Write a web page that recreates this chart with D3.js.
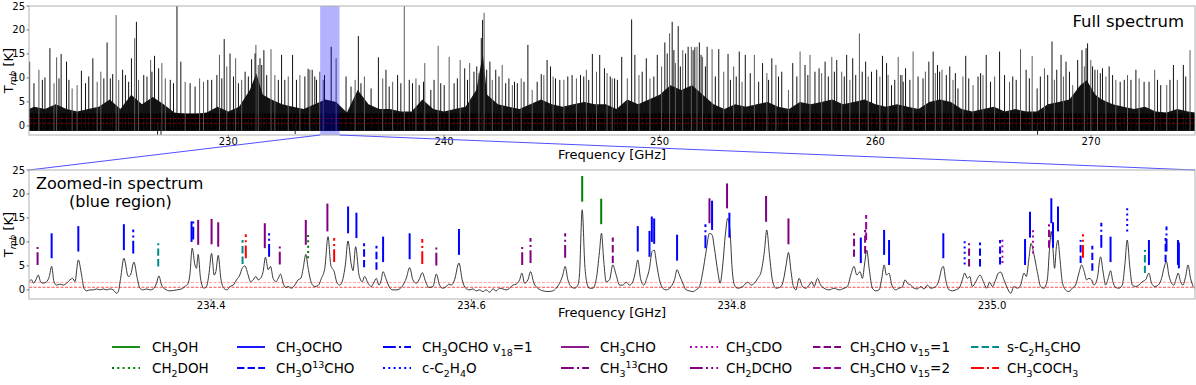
<!DOCTYPE html>
<html><head><meta charset="utf-8">
<script src="https://cdn.jsdelivr.net/npm/d3@7"></script>
<style>body{margin:0;background:#fff} text{font-family:"DejaVu Sans",sans-serif;fill:#000}</style>
</head><body><svg id="c" width="1196" height="385"></svg>
<script>
// ---------------- DATA ----------------
const fullRange = [220.76, 274.82];          // GHz, full spectrum axis
const zoomRange = [234.26, 235.156];         // GHz, zoomed window (blue band)
const tRange = [-1.9, 25];                   // K
const yTicks = [0, 5, 10, 15, 20, 25];
const fullTicks = [230, 240, 250, 260, 270];
const zoomTicks = [234.4, 234.6, 234.8, 235.0];
const rmsLevels = [0.55, 1.55];
const noiseFloor = -1.0;
const coreLevel = 2.6;

// dense part of the full spectrum [GHz, K]
const fullBody = [[220.76,3.5],[221.0,4],[221.5,3.5],[222.0,4.5],[222.5,3.5],[223.0,3],[223.5,3.5],[224.0,4],[224.5,5.5],[225.0,3.5],[225.5,6.5],[226.0,4.5],[226.5,6],[227.0,4.5],[227.5,2.8],[228.0,2.5],[228.5,2.5],[229.0,2.8],[229.5,4],[230.0,3],[230.5,4],[231.0,7.5],[231.3,11],[231.6,6.5],[232.0,5.5],[232.5,4.5],[233.0,4],[233.5,3.5],[234.0,4.5],[234.5,5.5],[235.0,5],[235.5,2.8],[236.0,7.5],[236.5,4.5],[237.0,3.5],[237.5,3.5],[238.0,3],[238.5,3],[239.0,5.5],[239.5,3.5],[240.0,3],[240.5,3.5],[241.0,4],[241.5,7.5],[241.8,15],[242.0,6.5],[242.5,4.5],[243.0,4],[243.5,3.5],[244.0,4.5],[244.5,5.5],[245.0,4.5],[245.5,4],[246.0,4.5],[246.5,5],[247.0,4.5],[247.5,4.5],[248.0,3.5],[248.5,5.5],[249.0,4.5],[249.5,5.5],[250.0,6.5],[250.5,8.5],[251.0,7.5],[251.5,8.5],[252.0,6.5],[252.5,4.5],[253.0,3.5],[253.5,4.5],[254.0,4],[254.5,4.5],[255.0,5],[255.5,4],[256.0,3.5],[256.5,5],[257.0,4.5],[257.5,5],[258.0,5.5],[258.5,4.5],[259.0,5],[259.5,5.5],[260.0,4.5],[260.5,4],[261.0,4.5],[261.5,4],[262.0,3.5],[262.5,5],[263.0,5.5],[263.5,5],[264.0,3.5],[264.5,3],[265.0,3.5],[265.5,4],[266.0,3],[266.5,3.5],[267.0,3],[267.5,3],[268.0,4.5],[268.5,5],[269.0,5.5],[269.5,8.5],[269.8,9.5],[270.2,6.5],[270.5,5.5],[271.0,4.5],[271.5,4],[272.0,3.5],[272.5,4],[273.0,3],[273.5,2.8],[274.0,3.5],[274.5,3],[274.82,2.8]];

// individual emission lines of the full spectrum [GHz, peak K]
const fullSpikes = [[220.79,13.4],[221.22,11.7],[221.50,10.1],[221.73,16.2],[222.04,14.3],[222.25,15.0],[222.50,13.4],[222.76,7.8],[223.19,11.5],[223.72,14.1],[224.09,11.3],[224.38,17.4],[224.64,10.8],[224.80,23.1],[225.10,11.7],[225.51,14.1],[225.66,18.3],[225.74,21.7],[226.08,10.6],[226.40,13.75],[226.58,14.6],[226.77,12.0],[226.92,13.1],[227.62,26],[227.80,13.4],[228.67,9.9],[229.05,9.6],[229.47,10.6],[229.59,14.8],[229.81,18.1],[230.08,15.1],[230.34,14.1],[230.78,11.3],[231.08,13.9],[231.28,16.9],[231.47,14.1],[231.65,15.8],[231.98,16.0],[232.47,14.8],[232.98,14.8],[233.32,10.6],[233.70,11.9],[233.89,11.7],[234.24,11.3],
[220.99,8.9],[221.38,9.6],[221.92,8.9],[222.15,9.9],[222.61,9.6],[222.99,8.5],[223.38,8.9],[223.53,10.3],[223.92,9.2],[224.23,9.9],[224.53,9.9],[224.92,9.6],[225.23,10.6],[225.38,9.2],[225.84,9.6],[226.23,10.3],[226.46,11.3],[227.08,9.9],[227.31,9.6],[227.46,8.9],[228.00,9.2],[228.23,8.9],[228.46,8.2],[228.85,9.2],[229.23,9.6],[229.70,9.9],[229.93,12.4],[230.24,10.3],[230.47,8.9],[230.62,9.6],[230.93,10.3],[231.24,15.1],[231.39,12.7],[231.55,12.7],[231.78,10.6],[232.16,10.6],[232.32,9.6],[232.62,9.6],[232.78,10.3],[233.16,9.6],[233.55,10.3],[233.78,11.7],[234.01,10.3],[234.09,9.6],[234.40,9.6],
[234.46,10.6],[234.77,16.5],[235.00,14.1],[235.46,10.3],[235.69,8.2],[235.88,9.6],[236.03,18.75],[236.15,8.9],[236.31,10.3],[236.62,7.8],[236.96,14.3],[237.16,9.9],[237.31,11.7],[237.46,8.2],[237.62,9.2],[237.85,10.6],[238.00,8.9],[238.16,26],[238.39,9.6],[238.54,8.9],[238.70,9.9],[238.85,8.5],[239.05,9.2],[239.11,13.1],[239.39,7.5],[239.54,9.6],[239.73,16.7],[239.85,8.9],[240.01,8.5],[240.24,14.4],[240.47,8.9],[240.62,9.9],[240.75,13.75],[240.96,12.0],[241.09,9.6],[241.19,13.1],[241.39,11.3],[241.52,12.4],[241.62,11.0],[241.73,18.3],[241.79,22.1],[241.86,23.6],[241.98,11.7],[242.13,13.4],[242.24,9.6],[242.40,11.7],[242.55,10.3],[242.70,12.7],[242.86,8.9],[243.01,9.9],[243.17,8.5],[243.27,9.2],[243.40,8.9],[243.58,9.9],[243.71,9.2],[243.89,16.9],[244.09,7.5],[244.32,9.2],[244.51,10.8],[244.63,10.6],[244.78,13.75],[244.94,12.4],[245.06,10.3],[245.17,9.9],[245.37,9.6],[245.56,9.6],[245.74,10.3],[245.94,10.6],[246.14,9.9],[246.33,10.6],[246.48,10.3],[246.60,11.7],[246.71,9.6],[246.88,15.0],[247.07,11.3],[247.22,14.8],[247.44,12.0],[247.56,11.0],[247.71,10.3],[247.91,9.9],
[247.80,9.9],[248.04,9.6],[248.24,14.4],[248.50,9.9],[248.70,22.2],[248.85,14.8],[249.04,10.6],[249.19,11.3],[249.38,14.1],[249.55,9.9],[249.73,10.3],[249.89,14.8],[250.09,12.4],[250.24,17.4],[250.35,15.1],[250.46,19.3],[250.58,21.7],[250.66,15.8],[250.73,13.1],[250.86,20.8],[250.96,12.4],[251.07,15.8],[251.20,15.1],[251.32,16.5],[251.47,16.5],[251.55,15.8],[251.63,16.4],[251.73,16.5],[251.84,17.4],[251.92,14.8],[251.99,14.4],[252.12,12.4],[252.20,16.5],[252.43,16.0],[252.58,10.3],[252.74,16.0],[252.97,11.3],[253.17,15.0],[253.28,9.6],[253.43,12.4],[253.55,10.3],[253.69,15.5],[253.82,9.2],[253.97,14.8],[254.20,11.0],[254.39,14.8],[254.59,9.2],[254.77,13.1],[254.97,11.0],[255.05,9.6],[255.20,14.1],[255.39,12.7],[255.51,10.3],[255.66,11.3],[255.97,7.5],[256.17,13.1],[256.36,10.3],[256.51,15.5],[256.74,12.7],[256.87,10.6],[256.97,14.8],[257.20,11.3],[257.39,12.0],[257.51,11.0],[257.67,13.4],[257.82,10.3],[257.98,14.4],[258.10,11.3],[258.21,13.75],[258.44,11.3],[258.56,10.3],[258.67,14.8],[258.82,9.6],[258.95,14.1],[259.09,10.6],[259.26,19.3],[259.39,11.3],[259.55,13.4],[259.67,10.3],[259.82,11.3],[260.06,11.7],[260.21,10.3],[260.33,14.6],[260.52,13.1],[260.59,10.6],[260.75,8.5],[260.90,9.6],[261.06,14.4],[261.18,10.6],[261.29,9.2],
[261.24,10.6],[261.40,12.0],[261.60,9.6],[261.75,15.5],[261.98,10.3],[262.21,9.9],[262.32,11.3],[262.48,13.4],[262.68,15.5],[262.78,11.0],[262.88,12.7],[262.98,11.3],[263.09,11.7],[263.29,10.6],[263.45,12.4],[263.60,9.6],[263.71,11.0],[263.83,7.8],[264.06,10.3],[264.19,14.6],[264.33,9.9],[264.53,8.5],[264.76,10.3],[264.88,11.0],[264.99,10.6],[265.14,14.8],[265.34,9.2],[265.53,10.3],[265.76,15.5],[265.99,10.6],[266.22,9.2],[266.37,10.3],[266.53,9.6],[266.73,16.0],[266.99,11.7],[267.14,9.9],[267.27,14.6],[267.50,7.8],[267.65,10.3],[267.84,12.0],[267.99,10.6],[268.19,17.6],[268.30,9.6],[268.41,11.7],[268.61,14.8],[268.72,10.3],[268.84,13.4],[269.00,11.3],[269.15,8.5],[269.38,13.75],[269.58,15.8],[269.69,12.4],[269.77,16.2],[269.84,17.2],[269.99,13.75],[270.07,12.4],[270.18,11.7],[270.30,11.7],[270.43,11.0],[270.53,12.0],[270.69,10.3],[270.84,12.4],[271.00,10.6],[271.15,9.6],[271.35,9.2],[271.54,9.6],[271.69,10.6],[271.85,9.6],[272.08,11.7],[272.23,9.9],[272.46,9.2],[272.69,9.2],[272.95,11.7],[273.08,9.6],[273.23,8.5],[273.51,8.5],[273.66,9.6],[273.82,12.7],[274.00,9.6],[274.28,12.7],[274.39,10.3],[274.59,15.8]];

// absorption-like dips in the full spectrum [GHz, K]
const fullDips = [[226.72,-2.6],[226.88,-2.3],[233.10,-1.7],[267.52,-2.6]];

// zoomed-in spectrum [GHz, K]
const zoomSpec = [[234.2600,1.7],[234.2620,2.1],[234.2633,1.4],[234.2653,2.1],[234.2671,3.1],[234.2689,1.7],[234.2710,1.4],[234.2735,1.7],[234.2756,2.8],[234.2774,4.9],[234.2792,1.7],[234.2812,1.0],[234.2838,1.2],[234.2863,1.0],[234.2889,1.4],[234.2915,2.1],[234.2935,2.4],[234.2953,1.7],[234.2979,6.25],[234.3004,3.1],[234.3022,0.35],[234.3043,-0.2],[234.3068,0],[234.3094,0],[234.3119,0.2],[234.3145,0],[234.3171,0.2],[234.3196,0],[234.3222,0.2],[234.3247,0],[234.3273,-0.7],[234.3286,-0.35],[234.3304,2.4],[234.3329,6.6],[234.3363,2.8],[234.3380,3.1],[234.3406,5.8],[234.3432,2.4],[234.3452,0.35],[234.3478,0],[234.3503,0.2],[234.3529,0],[234.3555,0.2],[234.3580,1.4],[234.3598,2.9],[234.3619,1.0],[234.3644,0.2],[234.3683,-0.2],[234.3734,0],[234.3772,0.2],[234.3798,0.7],[234.3823,1.4],[234.3836,3.1],[234.3854,8.7],[234.3875,5.2],[234.3887,4.5],[234.3900,7.4],[234.3918,2.4],[234.3944,0.35],[234.3964,0.7],[234.3982,3.1],[234.4003,7.6],[234.4023,3.1],[234.4036,3.8],[234.4054,7.2],[234.4074,2.4],[234.4097,0.35],[234.4123,0],[234.4143,0.7],[234.4169,1.0],[234.4195,2.1],[234.4220,3.1],[234.4238,4.5],[234.4259,5.0],[234.4284,3.1],[234.4302,1.7],[234.4323,2.1],[234.4343,2.8],[234.4361,2.1],[234.4379,2.4],[234.4399,3.8],[234.4417,6.8],[234.4438,4.2],[234.4456,4.9],[234.4476,2.4],[234.4497,1.7],[234.4515,2.4],[234.4533,3.3],[234.4553,1.4],[234.4573,0.5],[234.4591,0.7],[234.4617,0.35],[234.4642,1.0],[234.4668,2.1],[234.4689,2.4],[234.4707,4.5],[234.4727,7.4],[234.4745,4.5],[234.4771,1.4],[234.4796,0.7],[234.4822,0.9],[234.4847,2.4],[234.4873,4.5],[234.4898,11.1],[234.4919,5.2],[234.4945,3.8],[234.4968,1.4],[234.4988,1.0],[234.5013,2.4],[234.5031,5.2],[234.5051,10.2],[234.5077,5.2],[234.5090,4.0],[234.5110,9.0],[234.5136,3.1],[234.5161,1.7],[234.5179,2.8],[234.5205,1.4],[234.5230,0.7],[234.5248,1.4],[234.5269,2.4],[234.5289,1.0],[234.5307,2.1],[234.5320,3.8],[234.5346,2.1],[234.5371,0.5],[234.5397,0],[234.5422,0],
[234.5448,0.2],[234.5474,1.0],[234.5499,2.4],[234.5525,4.65],[234.5550,2.1],[234.5576,1.4],[234.5602,2.4],[234.5622,3.6],[234.5648,1.7],[234.5673,0.5],[234.5704,0.7],[234.5730,3.3],[234.5755,1.0],[234.5781,0.35],[234.5806,0.7],[234.5827,1.2],[234.5845,1.0],[234.5870,2.1],[234.5904,5.6],[234.5929,2.1],[234.5955,0.35],[234.5986,0],[234.6011,0.2],[234.6037,-0.2],[234.6062,0],[234.6088,-0.35],[234.6114,0],[234.6139,-0.5],[234.6165,0.2],[234.6190,-0.2],[234.6216,0.35],[234.6242,0.2],[234.6267,0],[234.6293,0.35],[234.6318,1.0],[234.6344,1.2],[234.6370,2.1],[234.6388,3.5],[234.6408,1.4],[234.6434,2.1],[234.6454,3.8],[234.6480,1.4],[234.6510,0.35],[234.6549,-0.2],[234.6587,-0.35],[234.6626,-0.2],[234.6651,0.35],[234.6677,1.4],[234.6702,3.1],[234.6720,4.9],[234.6741,2.1],[234.6766,0.7],[234.6792,0.35],[234.6818,1.0],[234.6830,3.1],[234.6851,16.7],[234.6871,5.2],[234.6887,1.4],[234.6907,0.35],[234.6933,0.35],[234.6958,2.1],[234.6984,8.0],[234.6999,11.8],[234.7017,5.9],[234.7035,1.7],[234.7061,2.1],[234.7086,5.2],[234.7112,3.1],[234.7138,1.0],[234.7163,1.0],[234.7189,1.6],[234.7214,1.0],[234.7240,1.7],[234.7260,3.8],[234.7278,6.25],[234.7299,2.4],[234.7324,1.0],[234.7347,2.4],[234.7368,4.5],[234.7388,8.0],[234.7404,8.3],[234.7424,5.2],[234.7445,2.1],[234.7470,0.35],[234.7496,0],[234.7534,0.7],[234.7560,2.1],[234.7580,4.2],[234.7598,3.1],[234.7624,1.4],[234.7650,0],[234.7675,-0.2],[234.7701,-0.35],[234.7726,0],[234.7752,0.7],[234.7778,3.8],[234.7803,8.0],[234.7829,11.8],[234.7849,11.5],[234.7867,8.7],[234.7893,3.8],[234.7911,1.4],[234.7931,5.2],[234.7951,11.5],[234.7969,14.9],[234.7987,12.2],[234.8003,4.5],[234.8021,1.0],[234.8046,0.35],[234.8085,0.7],[234.8123,1.6],[234.8149,1.0],[234.8174,1.4],[234.8200,2.4],[234.8226,3.8],[234.8251,8.0],[234.8269,12.5],[234.8290,7.3],[234.8315,1.7],[234.8341,0.35],[234.8379,0.7],[234.8405,3.1],[234.8418,5.2],[234.8436,7.8],[234.8456,3.8],[234.8474,0.7],[234.8494,0],
[234.8518,2.4],[234.8544,0.7],[234.8569,0.35],[234.8595,1.0],[234.8615,1.7],[234.8633,0.7],[234.8659,2.4],[234.8684,1.0],[234.8710,0.35],[234.8748,0],[234.8787,0.35],[234.8825,0],[234.8864,0.35],[234.8889,0.7],[234.8915,3.1],[234.8940,4.9],[234.8961,3.1],[234.8986,3.8],[234.9004,2.4],[234.9022,5.6],[234.9038,8.3],[234.9056,4.5],[234.9081,0.35],[234.9107,-0.2],[234.9132,0],[234.9153,2.4],[234.9171,5.2],[234.9189,3.1],[234.9209,3.5],[234.9230,1.0],[234.9260,0],[234.9286,0.35],[234.9312,0.7],[234.9332,2.1],[234.9350,1.4],[234.9376,1.0],[234.9401,0.35],[234.9427,0.2],[234.9452,0.7],[234.9478,0.2],[234.9504,1.0],[234.9529,0.35],[234.9568,0.7],[234.9593,2.1],[234.9614,4.5],[234.9626,4.9],[234.9644,2.1],[234.9670,0],[234.9696,-0.2],[234.9721,0],[234.9747,0.35],[234.9772,2.1],[234.9790,3.5],[234.9811,2.4],[234.9829,2.8],[234.9849,0.7],[234.9875,1.7],[234.9908,3.1],[234.9934,1.7],[234.9959,0.35],[234.9982,1.6],[235.0003,0.7],[235.0028,2.1],[235.0049,3.5],[235.0067,3.7],[235.0092,2.1],[235.0118,0.35],[235.0144,-0.7],[235.0169,0.7],[235.0195,0.35],[235.0220,1.0],[235.0246,3.5],[235.0264,2.8],[235.0284,6.6],[235.0300,9.7],[235.0323,7.3],[235.0348,3.8],[235.0374,0.7],[235.0399,0.35],[235.0425,2.1],[235.0443,9.0],[235.0455,12.2],[235.0468,8.7],[235.0481,4.5],[235.0494,8.7],[235.0506,10.4],[235.0522,6.6],[235.0540,1.7],[235.0565,0],[235.0591,-0.35],[235.0616,0.35],[235.0642,1.0],[235.0668,3.5],[235.0688,5.2],[235.0709,3.8],[235.0727,2.1],[235.0745,2.4],[235.0765,2.1],[235.0783,1.0],[235.0809,2.4],[235.0834,6.9],[235.0855,3.5],[235.0873,1.0],[235.0893,2.4],[235.0911,4.0],[235.0929,1.7],[235.0950,0.5],[235.0975,0.35],[235.1001,1.0],[235.1021,5.2],[235.1039,10.4],[235.1060,4.5],[235.1078,1.0],[235.1103,0.7],[235.1129,1.0],[235.1154,1.7],[235.1180,2.1],[235.1206,3.5],[235.1226,1.4],[235.1252,0.7],[235.1277,1.0],[235.1303,2.4],[235.1321,4.5],[235.1341,5.9],[235.1359,3.1],[235.1380,1.4],[235.1398,1.0],[235.1416,2.4],[235.1431,3.5],[235.1449,1.7],[235.1467,1.0],[235.1488,2.8],[235.1506,5.2],[235.1526,2.4],[235.1547,0.7],[235.1559,0.35]];

// species (legend order, column-major) with markup: {_x} subscript, {^x} superscript
const species = ["CH{_3}OH","CH{_2}DOH","CH{_3}OCHO","CH{_3}O{^13}CHO","CH{_3}OCHO v{_18}=1","c-C{_2}H{_4}O","CH{_3}CHO","CH{_3}{^13}CHO","CH{_3}CDO","CH{_2}DCHO","CH{_3}CHO v{_15}=1","CH{_3}CHO v{_15}=2","s-C{_2}H{_5}CHO","CH{_3}COCH{_3}"];

// line identifications [GHz, K low, K high, species index]
const markers = [[234.2666,5.2,9.4,7],[234.2774,6.6,11.8,2],[234.2979,8.0,13.3,2],[234.3329,8.3,13.7,2],[234.3401,7.6,12.6,4],[234.3593,4.9,9.7,12],[234.3849,10.0,14.3,2],[234.3862,10.5,14.9,4],[234.3900,9.4,14.6,6],[234.4003,9.5,14.8,6],[234.4054,9.0,14.1,6],[234.4241,5.4,10.4,12],[234.4266,6.6,11.6,13],[234.4412,8.7,13.9,6],[234.4445,6.9,11.8,4],[234.4527,5.3,9.5,7],[234.4727,9.4,14.6,6],[234.4745,6.6,11.5,1],[234.4893,12.2,18.0,6],[234.4945,5.8,10.8,13],[234.5052,11.8,17.4,2],[234.5116,10.8,16.1,2],[234.5175,4.7,9.7,3],[234.5270,4.2,9.2,3],[234.5321,5.8,11.1,2],
[234.5525,6.4,11.8,2],[234.5622,5.4,10.6,13],[234.5730,5.1,9.4,7],[234.5904,7.3,12.7,2],[234.6390,5.2,9.4,7],[234.6454,5.6,10.8,7],[234.6720,6.7,11.8,7],[234.6851,18.4,23.75,0],[234.6997,13.7,19.0,0],[234.7086,5.6,10.9,10],[234.7278,8.0,13.3,2],[234.7368,6.9,12.3,2],[234.7386,10.0,15.3,2],[234.7404,9.6,14.9,2],[234.7580,6.1,11.5,2],[234.7798,8.7,13.7,4],[234.7829,13.9,19.1,6],[234.7849,12.5,18.6,2],[234.7964,17.0,22.2,6],[234.7982,10.9,16.1,2],[234.8264,14.2,19.6,6],[234.8436,9.5,14.9,6],
[234.8940,6.9,11.8,10],[234.8992,5.6,10.9,2],[234.9025,7.6,12.5,10],[234.9033,10.4,15.6,11],[234.9171,7.3,12.5,2],[234.9209,5.2,10.4,2],[234.9626,6.6,11.8,2],[234.9790,5.3,10.4,5],[234.9824,4.9,9.7,10],[234.9908,4.9,9.9,3],[235.0062,5.3,10.4,3],[235.0080,5.6,10.6,8],[235.0254,5.2,10.6,2],[235.0292,10.9,16.3,2],[235.0315,7.6,12.8,8],[235.0438,8.8,13.7,11],[235.0456,13.9,19.1,2],[235.0469,8.8,14.1,2],[235.0507,12.2,17.4,2],[235.0681,5.6,10.4,3],[235.0699,6.7,11.6,13],[235.0771,4.0,9.2,3],[235.0840,8.8,14.0,4],[235.0911,5.8,11.1,2],[235.1039,12.2,17.4,5],[235.1175,3.5,8.3,12],[235.1206,5.2,10.4,2],[235.1334,5.8,10.8,3],[235.1341,8.0,13.2,4],[235.1429,5.2,10.4,2],[235.1436,4.5,9.9,2]];

// ---------------- STYLES ----------------
const colors = ["#008000","#008000","#0000ff","#0000ff","#0000ff","#0000ff","#800080","#800080","#b000b0","#800080","#800080","#990099","#008b8b","#ff0000"];
const dashes = [null,"2,3.3",null,"7.4,3.2","12.8,3.2,2,3.2","2,3.3",null,"12.8,3.2,2,3.2","2,3.3","12.8,3.2,2,3.2,2,3.2","7.4,3.2","7.4,3.2","7.4,3.2","12.8,3.2,2,3.2"];

// ---------------- LAYOUT ----------------
const svg = d3.select("#c");
const L = 29, R = 1195;
const pT = {y0: 6, y1: 135}, pB = {y0: 170, y1: 299};

const xF = d3.scaleLinear().domain(fullRange).range([L, R]);
const xZ = d3.scaleLinear().domain(zoomRange).range([L, R]);
const yF = d3.scaleLinear().domain(tRange).range([pT.y1, pT.y0]);
const yZ = d3.scaleLinear().domain(tRange).range([pB.y1, pB.y0]);

const defs = svg.append("defs");
defs.append("clipPath").attr("id","clipT").append("rect").attr("x",L).attr("y",pT.y0).attr("width",R-L).attr("height",pT.y1-pT.y0);
defs.append("clipPath").attr("id","clipB").append("rect").attr("x",L).attr("y",pB.y0).attr("width",R-L).attr("height",pB.y1-pB.y0);

function markup(sel, str, size){
  const parts = str.split(/(\{[_^][^}]*\})/).filter(s => s.length);
  let shift = 0;
  parts.forEach(p => {
    const m = p.match(/^\{([_^])(.*)\}$/);
    if (m) {
      const d = m[1] === "_" ? size*0.3 : -size*0.38;
      sel.append("tspan").attr("dy", d - shift).attr("font-size", size*0.7).text(m[2]);
      shift = d;
    } else {
      sel.append("tspan").attr("dy", -shift).text(p);
      shift = 0;
    }
  });
}

function yAxis(y, yc){
  const g = svg.append("g");
  g.selectAll("text.yt").data(yTicks).join("text")
    .attr("x", L-4).attr("y", d => y(d)).attr("dy","0.35em")
    .attr("text-anchor","end").attr("font-size",10).text(d => d);
  g.selectAll("line.yt").data(yTicks).join("line")
    .attr("x1", L-2.5).attr("x2", L).attr("y1", d => y(d)).attr("y2", d => y(d)).attr("stroke","#555").attr("stroke-width",0.8);
  const t = g.append("text").attr("transform", `translate(13,${yc}) rotate(-90)`).attr("text-anchor","middle").attr("font-size",13);
  t.append("tspan").text("T");
  t.append("tspan").attr("font-size",9).attr("font-style","italic").attr("dy",3).text("mb");
  t.append("tspan").attr("dy",-3).text(" [K]");
}
function xAxis(x, ticks, fmt, yb, labelY){
  const g = svg.append("g");
  g.selectAll("line").data(ticks).join("line")
    .attr("x1", d => x(d)).attr("x2", d => x(d)).attr("y1", yb).attr("y2", yb+2.5).attr("stroke","#555").attr("stroke-width",0.8);
  g.selectAll("text").data(ticks).join("text")
    .attr("x", d => x(d)).attr("y", yb+10).attr("text-anchor","middle").attr("font-size",10).text(fmt);
  svg.append("text").attr("x",(L+R)/2).attr("y",labelY).attr("text-anchor","middle").attr("font-size",13).text("Frequency [GHz]");
}

// ---- top panel ----
const gT = svg.append("g").attr("clip-path","url(#clipT)");
gT.append("path").datum(fullBody)
  .attr("d", d3.area().x(d => xF(d[0])).y0(yF(noiseFloor)).y1(d => yF(d[1])).curve(d3.curveLinear))
  .attr("fill","#000").attr("fill-opacity",0.92);
gT.append("rect").attr("x",L).attr("width",R-L).attr("y",yF(coreLevel)).attr("height",yF(noiseFloor)-yF(coreLevel)).attr("fill","#000");
gT.selectAll("line.sp").data(fullSpikes).join("line")
  .attr("x1", d => xF(d[0])).attr("x2", d => xF(d[0]))
  .attr("y1", yF(noiseFloor)).attr("y2", d => yF(d[1]))
  .attr("stroke", (d,i) => i % 3 === 1 ? "#5a5a5a" : "#111").attr("stroke-width",1);
gT.selectAll("line.dp").data(fullDips).join("line")
  .attr("x1", d => xF(d[0])).attr("x2", d => xF(d[0]))
  .attr("y1", yF(0.5)).attr("y2", d => yF(d[1]))
  .attr("stroke","#222").attr("stroke-width",1);
gT.selectAll("line.rms").data(rmsLevels).join("line")
  .attr("x1", L).attr("x2", R).attr("y1", d => yF(d)).attr("y2", d => yF(d))
  .attr("stroke","#a00000").attr("stroke-width",0.8).attr("stroke-dasharray","3,1.5");
svg.append("rect").attr("x", xF(zoomRange[0])).attr("y", pT.y0).attr("width", xF(zoomRange[1]) - xF(zoomRange[0])).attr("height", pT.y1-pT.y0)
  .attr("fill","#0000ff").attr("fill-opacity",0.3);
svg.append("rect").attr("x",L).attr("y",pT.y0).attr("width",R-L).attr("height",pT.y1-pT.y0).attr("fill","none").attr("stroke","#b0b0b0").attr("stroke-width",1);
svg.append("text").attr("x",1184).attr("y",27).attr("text-anchor","end").attr("font-size",16.5).text("Full spectrum");
yAxis(yF, (pT.y0+pT.y1)/2);
xAxis(xF, fullTicks, d => d, pT.y1, 159);

// connectors
svg.append("line").attr("x1", xF(zoomRange[0])).attr("y1", pT.y1).attr("x2", xZ(zoomRange[0])).attr("y2", pB.y0).attr("stroke","#5050ff").attr("stroke-width",1);
svg.append("line").attr("x1", xF(zoomRange[1])).attr("y1", pT.y1).attr("x2", xZ(zoomRange[1])).attr("y2", pB.y0).attr("stroke","#5050ff").attr("stroke-width",1);

// ---- bottom panel ----
const gB = svg.append("g").attr("clip-path","url(#clipB)");
gB.append("line").attr("x1",L).attr("x2",R).attr("y1",yZ(rmsLevels[1])).attr("y2",yZ(rmsLevels[1]))
  .attr("stroke","#ff9090").attr("stroke-width",0.8).attr("stroke-dasharray","3,1.5");
gB.append("line").attr("x1",L).attr("x2",R).attr("y1",yZ(rmsLevels[0])).attr("y2",yZ(rmsLevels[0]))
  .attr("stroke","#ff2020").attr("stroke-width",0.8).attr("stroke-dasharray","3,1.5");
gB.append("path").datum(zoomSpec)
  .attr("d", d3.line().x(d => xZ(d[0])).y(d => yZ(d[1])).curve(d3.curveMonotoneX))
  .attr("fill","none").attr("stroke","#222").attr("stroke-width",0.9);
gB.selectAll("line.mk").data(markers).join("line")
  .attr("x1", d => xZ(d[0])).attr("x2", d => xZ(d[0]))
  .attr("y1", d => yZ(d[1])).attr("y2", d => yZ(d[2]))
  .attr("stroke", d => colors[d[3]]).attr("stroke-width",2)
  .attr("stroke-dasharray", d => dashes[d[3]]);
svg.append("rect").attr("x",L).attr("y",pB.y0).attr("width",R-L).attr("height",pB.y1-pB.y0).attr("fill","none").attr("stroke","#b0b0b0").attr("stroke-width",1);
svg.append("text").attr("x",36).attr("y",189).attr("font-size",16).text("Zoomed-in spectrum");
svg.append("text").attr("x",69).attr("y",207).attr("font-size",16).text("(blue region)");
yAxis(yZ, (pB.y0+pB.y1)/2);
xAxis(xZ, zoomTicks, d => d.toFixed(1), pB.y1, 317);

// ---- legend ----
const colLineX = [112, 237, 383, 561, 690, 813, 971];
const colTextX = [152, 276, 422, 600, 726, 850, 1007];
const rowY = [347, 368];
species.forEach((s, i) => {
  const c = Math.floor(i/2), r = i % 2;
  svg.append("line").attr("x1", colLineX[c]).attr("x2", colLineX[c]+28).attr("y1", rowY[r]).attr("y2", rowY[r])
    .attr("stroke", colors[i]).attr("stroke-width",1.8).attr("stroke-dasharray", dashes[i]);
  const t = svg.append("text").attr("x", colTextX[c]).attr("y", rowY[r]+5).attr("font-size",13.5);
  markup(t, s, 13.5);
});
</script></body></html>
